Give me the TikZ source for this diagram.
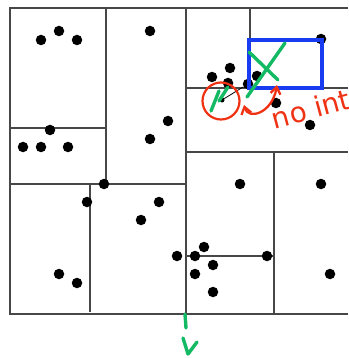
\documentclass[tikz,border=0pt]{standalone}
\usepackage{fontspec}
\setsansfont{DejaVu Sans}
\usetikzlibrary{arrows.meta}
\definecolor{inkred}{RGB}{240,50,20}
\definecolor{inkgreen}{RGB}{20,185,100}
\definecolor{inkblue}{RGB}{25,60,240}
\begin{document}
\begin{tikzpicture}[
  x=1pt, y=-1pt,
  split/.style={draw=black!72, line width=1.7},
  pt/.style={circle, fill=black, inner sep=0pt, minimum size=10.5},
  query/.style={circle, fill=black, inner sep=0pt, minimum size=5},
  redpen/.style={draw=inkred, line width=2.3, line cap=round},
  greenpen/.style={draw=inkgreen, line width=3.4, line cap=round, line join=round},
  every node/.style={font=\sffamily}
]
\useasboundingbox (0,0) rectangle (348,358);
% kd-tree cells
\draw[split] (348,8) -- (10,8) -- (10,314) -- (348,314);
\draw[split] (186,8) -- (186,314);
\draw[split] (106,8) -- (106,184);
\draw[split] (10,128) -- (106,128);
\draw[split] (10,184) -- (186,184);
\draw[split] (90,184) -- (90,312);
\draw[split] (186,88) -- (348,88);
\draw[split] (250,8) -- (250,88);
\draw[split] (186,152) -- (348,152);
\draw[split] (274,152) -- (274,314);
\draw[split] (186,256) -- (274,256);
% data points
\foreach \x/\y [count=\i] in {41/40, 59/31, 77/40, 150/31, 168/121, 150/139,
    50/130, 23/147, 41/147, 68/147, 104/184, 87/202, 159/202, 141/220,
    177/256, 59/274, 77/283, 240/184, 321/184, 195/256, 204/247, 213/265,
    195/274, 213/292, 267/256, 330/274, 321/39, 230/68, 212/77, 228/83,
    248/84, 257/76, 276/103, 310/125}
  \node[pt] (p\i) at (\x,\y) {};
% query and search ball
\node[query] (q) at (222,100) {};
\draw[black, line width=0.8] (q) -- (p31);
\node[circle, draw=inkred, line width=2.2, minimum size=37, inner sep=0pt] (ball) at (221,101) {};
\draw[greenpen] (211,111) -- (219,91);
\draw[greenpen] (219,101) -- (228,87);
% box to prune
\node[draw=inkblue, line width=3.2, minimum width=73, minimum height=48, inner sep=0pt] (cell) at (285.5,64) {};
\draw[greenpen] (247,97) -- (285,43);
\draw[greenpen] (249,52) -- (278,80);
% gap between ball and box
\coordinate (gapA) at (244,105);
\coordinate (gapB) at (277,85);
\draw[redpen, {Straight Barb[length=7pt,width=10pt]}-{Straight Barb[length=7pt,width=10pt]}]
  (gapA) .. controls (248,120) and (272,114) .. (gapB);
\node[text=inkred, font=\sffamily\fontsize{28}{28}\selectfont, rotate=15, anchor=west, inner sep=0pt] (note) at (272,119) {no int};
% root split mark
\coordinate (mA) at (185,314);
\coordinate (mB) at (186,328);
\draw[greenpen] (mA) -- (mB);
\coordinate (vA) at (183,338);
\coordinate (vB) at (197,342);
\draw[greenpen] (vA) -- (188,354) -- (vB);
\end{tikzpicture}
\end{document}
